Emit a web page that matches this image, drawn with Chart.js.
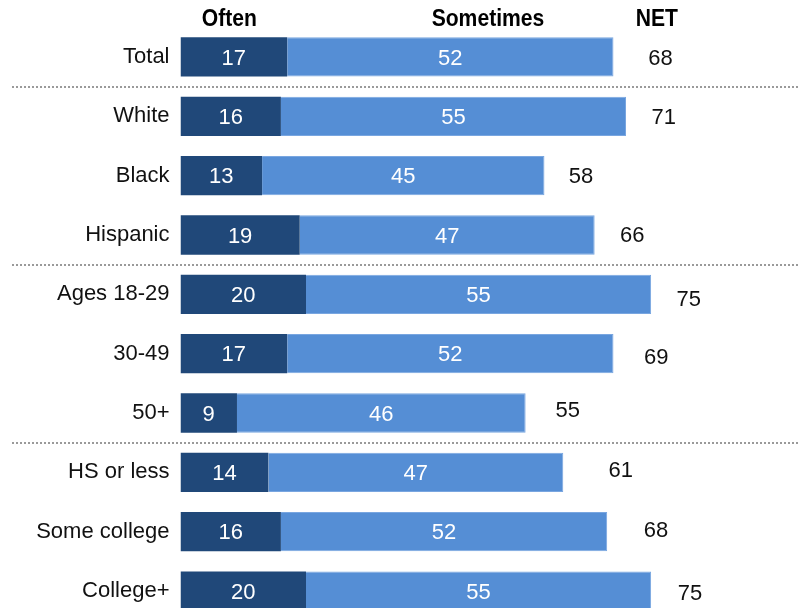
<!DOCTYPE html>
<html><head><meta charset="utf-8">
<style>
html,body{margin:0;padding:0;overflow:hidden;background:#fff;width:798px;height:608px}
#wrap{position:relative;width:798px;height:621px}
canvas{display:block}
</style>
<script src="https://cdn.jsdelivr.net/npm/chart.js@4"></script>
</head><body>
<div id="wrap"><canvas id="c" width="798" height="621"></canvas></div>
<script>
// ---- data ----
const categories = ['Total','White','Black','Hispanic','Ages 18-29','30-49','50+','HS or less','Some college','College+'];
const often      = [17,16,13,19,20,17,9,14,16,20];
const sometimes  = [52,55,45,47,55,52,46,47,52,55];
const net        = [68,71,58,66,75,69,55,61,68,75];
const headers    = ['Often','Sometimes','NET'];
const groupEnds  = [0,3,6]; // separator after these rows

// ---- style ----
const DARK = '#204879';
const LIGHT = '#558ed5';
const labelStyle = {
  headerAt: [7.8, 49, 75.9],         // header centres, in x-axis units
  headerY: 19,
  netDx: [47,37.6,36.6,37.5,37.5,42.7,42,57.5,48.7,38.8],
  netDy: [1,0.4,0.3,0,4.8,3.5,-3,-2.3,-1.5,1.5]
};

const overlay = {
  id:'overlay',
  afterDatasetsDraw(chart){
    const ctx = chart.ctx, xs = chart.scales.x, ys = chart.scales.y;
    const m0 = chart.getDatasetMeta(0), m1 = chart.getDatasetMeta(1);
    ctx.save();
    // segment values
    ctx.textAlign='center'; ctx.textBaseline='middle';
    ctx.font = '22px "Liberation Sans"';
    ctx.fillStyle = '#ffffff';
    [m0,m1].forEach((m,di)=>{
      const vals = di===0?often:sometimes;
      m.data.forEach((b,i)=>{
        ctx.fillText(String(vals[i]), (b.x+b.base)/2, b.y+1.5);
      });
    });
    // NET values
    ctx.fillStyle = '#111';
    m1.data.forEach((b,i)=>{
      ctx.fillText(String(net[i]), b.x + labelStyle.netDx[i], b.y + labelStyle.netDy[i]+1);
    });
    // headers (bold, horizontally condensed)
    ctx.font = 'bold 24px "Liberation Sans"';
    ctx.fillStyle = '#000';
    headers.forEach((h,k)=>{
      ctx.save();
      ctx.translate(xs.getPixelForValue(labelStyle.headerAt[k]), labelStyle.headerY);
      ctx.scale(0.88,1);
      ctx.fillText(h, 0, 0);
      ctx.restore();
    });
    // separators
    ctx.strokeStyle = '#9a9a9a';
    ctx.lineWidth = 2;
    ctx.setLineDash([2,2]);
    groupEnds.forEach(i=>{
      const y = Math.round((ys.getPixelForValue(i)+ys.getPixelForValue(i+1))/2);
      ctx.beginPath(); ctx.moveTo(12,y); ctx.lineTo(chart.width,y); ctx.stroke();
    });
    ctx.restore();
  }
};

new Chart(document.getElementById('c'),{
  type:'bar',
  data:{labels:categories,datasets:[
    {label:'Often',data:often,backgroundColor:DARK,stack:'s'},
    {label:'Sometimes',data:sometimes,backgroundColor:LIGHT,borderColor:'#79a6e0',borderWidth:1,borderSkipped:'left',stack:'s'}
  ]},
  options:{
    indexAxis:'y',responsive:false,animation:false,events:[],
    layout:{padding:{top:27.3,bottom:0.3,left:0,right:52.75}},
    plugins:{legend:{display:false},tooltip:{enabled:false}},
    datasets:{bar:{categoryPercentage:1,barPercentage:0.662}},
    scales:{
      x:{display:false,stacked:true,min:0,max:90},
      y:{stacked:true,grid:{display:false,drawTicks:false},border:{display:false},
         ticks:{padding:11,color:'#111',font:{family:'Liberation Sans',size:22}},
         afterFit(s){s.width=180.5; s.paddingTop=0; s.paddingBottom=0;}}
    }
  },
  plugins:[overlay]
});
</script>
</body></html>
